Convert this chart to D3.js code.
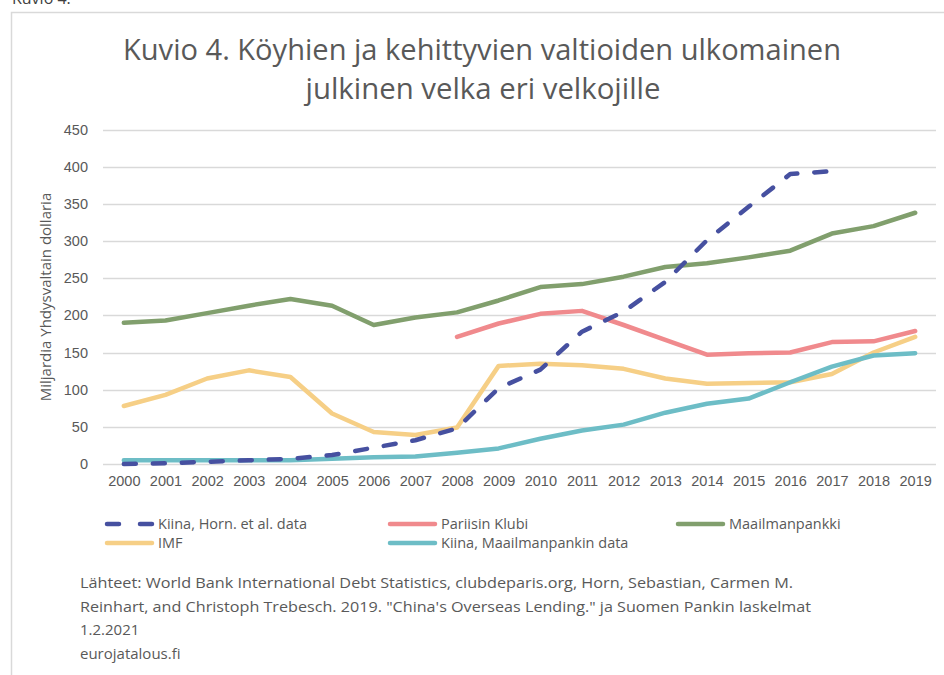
<!DOCTYPE html>
<html>
<head>
<meta charset="utf-8">
<script src="https://cdn.jsdelivr.net/npm/d3@7"></script>
<style>
  html, body { margin: 0; padding: 0; background: #fff; }
  svg { display: block; font-family: "Open Sans", "Noto Sans", sans-serif; }
</style>
</head>
<body>
<svg id="chart" width="944" height="675"></svg>
<script>
// years on the x axis
const years = d3.range(2000, 2020).map(String)

// billions of US dollars
const kiinaHorn = [0, 1, 3, 5, 7, 12, 22, 32, 48, 102, 127, 178, 205, 245, 301, 346, 390, 394, null, null]
const pariisinKlubi = [null, null, null, null, null, null, null, null, 171, 189, 202, 206, 187, 167, 147, 149, 150, 164, 165, 179]
const maailmanpankki = [190, 193, 203, 213, 222, 213, 187, 197, 204, 220, 238, 242, 252, 265, 270, 278, 287, 310, 320, 338]
const imf = [78, 93, 115, 126, 117, 68, 43, 39, 49, 132, 135, 133, 128, 115, 108, 109, 110, 121, 150, 171]
const kiinaWB = [5, 5, 5, 5, 5, 7, 9, 10, 15, 21, 34, 45, 53, 69, 81, 88, 110, 131, 146, 149]

const yTicks = [0, 50, 100, 150, 200, 250, 300, 350, 400, 450]

const series = [
  { name: "Kiina, Horn. et al. data", values: kiinaHorn, color: "#4650a0", dash: true },
  { name: "Pariisin Klubi", values: pariisinKlubi, color: "#f08a8d" },
  { name: "Maailmanpankki", values: maailmanpankki, color: "#819f6d" },
  { name: "IMF", values: imf, color: "#f6cf86" },
  { name: "Kiina, Maailmanpankin data", values: kiinaWB, color: "#6dbdc6" },
]

const textColor = "#595959"
const svg = d3.select("#chart")

// outer frame of the figure (only top and left edges are visible)
svg.append("path")
  .attr("d", "M11.5,675 L11.5,12.5 L944,12.5")
  .attr("fill", "none")
  .attr("stroke", "#d9d9d9")
  .attr("stroke-width", 1.5)

// caption above the frame, mostly cut off by the top edge like in the original
svg.append("text")
  .attr("x", 12).attr("y", 4)
  .attr("font-size", 16)
  .attr("fill", "#404040")
  .text("Kuvio 4.")

// title
const title = svg.append("g").attr("fill", textColor).attr("font-size", 30).attr("text-anchor", "middle")
title.append("text").attr("x", 482).attr("y", 60)
  .attr("textLength", 718).attr("lengthAdjust", "spacingAndGlyphs")
  .text("Kuvio 4. Köyhien ja kehittyvien valtioiden ulkomainen")
title.append("text").attr("x", 483).attr("y", 99)
  .attr("textLength", 355).attr("lengthAdjust", "spacingAndGlyphs")
  .text("julkinen velka eri velkojille")

const x = d3.scalePoint().domain(years).range([103, 936]).padding(0.5)
const y = d3.scaleLinear().domain([0, 450]).range([464, 129.5])

// gridlines
svg.append("g")
  .selectAll("line")
  .data(yTicks)
  .join("line")
  .attr("x1", 103).attr("x2", 936)
  .attr("y1", (d) => Math.round(y(d)) + 0.5)
  .attr("y2", (d) => Math.round(y(d)) + 0.5)
  .attr("stroke", "#d9d9d9")
  .attr("stroke-width", 1.3)

// y axis labels
const yAxis = svg.append("g")
  .attr("transform", "translate(95,0)")
  .call(d3.axisLeft(y).tickValues(yTicks).tickSize(0).tickPadding(7))
yAxis.select(".domain").remove()
yAxis.selectAll("text").attr("fill", textColor).attr("font-size", 14.5).attr("font-family", null)

// x axis labels
const xAxis = svg.append("g")
  .attr("transform", "translate(0,470)")
  .call(d3.axisBottom(x).tickSize(0).tickPadding(6))
xAxis.select(".domain").remove()
xAxis.selectAll("text").attr("fill", textColor).attr("font-size", 14.5).attr("font-family", null)

// y axis title
svg.append("text")
  .attr("transform", "translate(51,297) rotate(-90)")
  .attr("text-anchor", "middle")
  .attr("fill", textColor)
  .attr("font-size", 15)
  .text("Miljardia Yhdysvaltain dollaria")

// lines
const line = d3.line()
  .defined((d) => d != null)
  .x((d, i) => x(years[i]))
  .y((d) => y(d))

// draw order: green, red, yellow, teal, dashed on top
const drawOrder = [2, 1, 3, 4, 0]
svg.append("g")
  .selectAll("path")
  .data(drawOrder.map((i) => series[i]))
  .join("path")
  .attr("fill", "none")
  .attr("stroke", (d) => d.color)
  .attr("stroke-width", 4.5)
  .attr("stroke-linejoin", "round")
  .attr("stroke-linecap", "round")
  .attr("stroke-dasharray", (d) => (d.dash ? "12,17" : null))
  .attr("d", (d) => line(d.values))

// legend
const legendPos = [
  { x: 107, y: 524 },
  { x: 390, y: 524 },
  { x: 678, y: 524 },
  { x: 107, y: 543 },
  { x: 390, y: 543 },
]
const legend = svg.append("g")
  .selectAll("g")
  .data(series)
  .join("g")
  .attr("transform", (d, i) => `translate(${legendPos[i].x},${legendPos[i].y})`)
legend.append("line")
  .attr("x1", 0).attr("x2", 45)
  .attr("stroke", (d) => d.color)
  .attr("stroke-width", 4.5)
  .attr("stroke-linecap", "round")
  .attr("stroke-dasharray", (d) => (d.dash ? "12,21" : null))
legend.append("text")
  .attr("x", 51).attr("y", 5)
  .attr("fill", textColor)
  .attr("font-size", 14.5)
  .text((d) => d.name)

// source notes
const sources = [
  { text: "Lähteet: World Bank International Debt Statistics, clubdeparis.org, Horn, Sebastian, Carmen M.", len: 713 },
  { text: "Reinhart, and Christoph Trebesch.  2019. \"China's Overseas Lending.\" ja Suomen Pankin laskelmat", len: 731 },
  { text: "1.2.2021", len: null },
  { text: "eurojatalous.fi", len: null },
]
svg.append("g")
  .selectAll("text")
  .data(sources)
  .join("text")
  .attr("x", 80)
  .attr("y", (d, i) => 588 + i * 23.7)
  .attr("fill", textColor)
  .attr("font-size", 15)
  .attr("textLength", (d) => d.len)
  .attr("lengthAdjust", (d) => (d.len ? "spacingAndGlyphs" : null))
  .text((d) => d.text)
</script>
</body>
</html>
